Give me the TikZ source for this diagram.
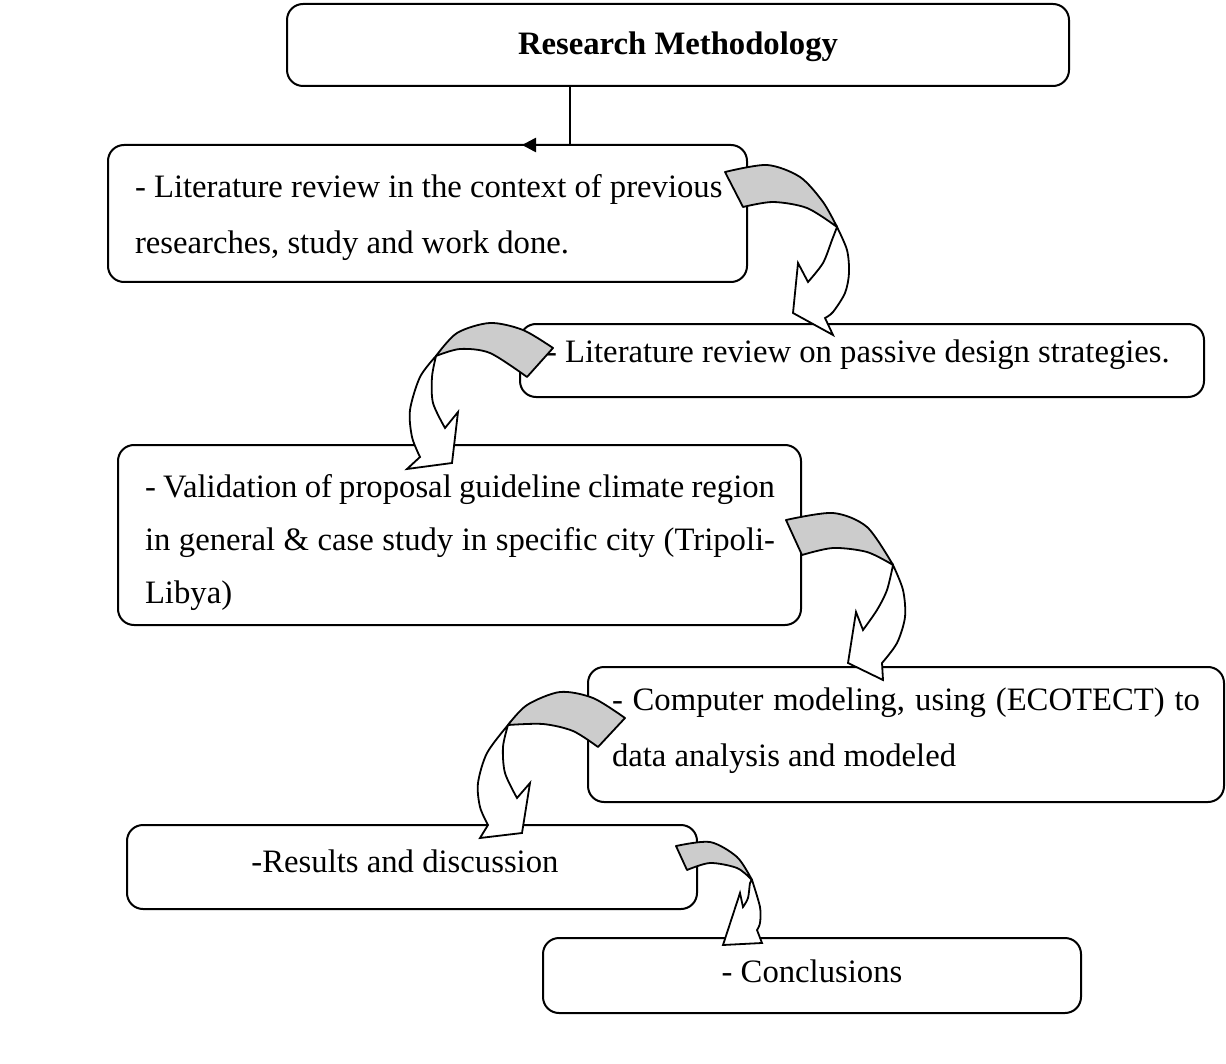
\documentclass[tikz,border=0pt]{standalone}
\usepackage{fontspec}
\setmainfont{Liberation Serif}
\usetikzlibrary{arrows.meta}
\begin{document}
\begin{tikzpicture}[x=0.5pt,y=-0.5pt,
 box/.style={draw=black, line width=1pt, rounded corners=8pt, fill=white, inner sep=0pt, outer sep=0pt},
 txt/.style={inner sep=0pt, outer sep=0pt, font=\fontsize{16.35}{20}\selectfont},
 band/.style={fill=black!20, draw=black, line width=0.9pt, line join=round},
 shaft/.style={fill=white, draw=black, line width=0.9pt, line join=miter},
 conn/.style={line width=1.3pt, -{Triangle[length=7pt,width=7pt]}}]
\fill[white] (0,0) rectangle (1226,1064);
% boxes
\node[box, minimum width=391pt, minimum height=41pt] (b1) at (678,45) {};
\node[box, minimum width=319.5pt, minimum height=68.5pt] (b2) at (427.5,213.5) {};
\node[box, minimum width=342pt, minimum height=36.5pt] (b3) at (862,360.5) {};
\node[box, minimum width=341.5pt, minimum height=90pt] (b4) at (459.5,535) {};
\node[box, minimum width=318pt, minimum height=67.5pt] (b5) at (906,734.5) {};
\node[box, minimum width=285pt, minimum height=42pt] (b6) at (412,867) {};
\node[box, minimum width=269pt, minimum height=37.5pt] (b7) at (812,975.5) {};
% texts
\node[txt, anchor=base] (t1) at (678,55) {\bfseries Research Methodology};
\node[txt, anchor=base west] (t2a) at (135,198) {- Literature review in the context of previous};
\node[txt, anchor=base west] (t2b) at (135,254) {researches, study and work done.};
\node[txt, anchor=base west] (t3) at (546,362) {- Literature review on passive design strategies.};
\node[txt, anchor=base west] (t4a) at (145,497) {\makebox[315pt][s]{- Validation of proposal guideline climate region}};
\node[txt, anchor=base west] (t4b) at (145,550) {\makebox[315pt][s]{in general \& case study in specific city (Tripoli-}};
\node[txt, anchor=base west] (t4c) at (145,603) {Libya)};
\node[txt, anchor=base west] (t5a) at (612,710) {\makebox[294pt][s]{- Computer modeling, using (ECOTECT) to}};
\node[txt, anchor=base west] (t5b) at (612,766) {data analysis and modeled};
\node[txt, anchor=base] (t6) at (405,872) {-Results and discussion};
\node[txt, anchor=base] (t7) at (812,982) {- Conclusions};
% connector
\coordinate (j1) at (570,145);
\coordinate (tip1) at (522,145);
\draw[conn] (j1 |- b1.south) -- (j1) -- (tip1);
% curved arrow 1
\filldraw[band] plot[smooth] coordinates {(725,172) (767,165) (800,177) (823,202) (837,227)} -- plot[smooth] coordinates {(837,227) (807,208) (773,202) (743,207)} -- cycle;
\filldraw[shaft] plot[smooth] coordinates {(837,227) (847,250) (849,273) (845,293) (833,312) (825,318)} -- (833,335) -- (793,313) -- (798,263) -- (808,282) -- plot[smooth] coordinates {(808,282) (823,263) (832,240) (837,227)} -- cycle;
% curved arrow 2
\filldraw[band] plot[smooth] coordinates {(553,348) (523,330) (490,323) (457,333) (436,356)} -- plot[smooth] coordinates {(436,356) (460,349) (490,353) (527,377)} -- cycle;
\filldraw[shaft] plot[smooth] coordinates {(436,356) (420,377) (410,410) (412,437) (420,457)} -- (407,469) -- (452,463) -- (458,412) -- (445,428) -- plot[smooth] coordinates {(445,428) (433,403) (432,377) (436,356)} -- cycle;
% curved arrow 3
\filldraw[band] plot[smooth] coordinates {(786,520) (833,513) (867,527) (893,565)} -- plot[smooth] coordinates {(893,565) (867,552) (833,548) (802,555)} -- cycle;
\filldraw[shaft] plot[smooth] coordinates {(893,565) (903,590) (905,617) (897,643) (882,663)} -- (883,680) -- (848,663) -- (856,612) -- (863,630) -- plot[smooth] coordinates {(863,630) (877,610) (887,590) (893,565)} -- cycle;
% curved arrow 4
\filldraw[band] plot[smooth] coordinates {(625,718) (593,698) (560,692) (527,705) (508,725)} -- plot[smooth] coordinates {(508,725) (543,724) (573,731) (598,747)} -- cycle;
\filldraw[shaft] plot[smooth] coordinates {(508,725) (487,753) (478,783) (480,807) (488,825)} -- (480,838) -- (522,833) -- (530,783) -- (517,798) -- plot[smooth] coordinates {(517,798) (505,773) (503,747) (508,725)} -- cycle;
% curved arrow 5
\filldraw[band] plot[smooth] coordinates {(676,846) (710,842) (737,857) (752,880)} -- plot[smooth] coordinates {(752,880) (737,868) (710,863) (687,870)} -- cycle;
\filldraw[shaft] plot[smooth] coordinates {(752,880) (760,907) (760,923) (757,930)} -- (762,943) -- (723,945) -- (740,893) -- (743,907) -- plot[smooth] coordinates {(743,907) (748,898) (750,883) (752,880)} -- cycle;
\end{tikzpicture}
\end{document}
